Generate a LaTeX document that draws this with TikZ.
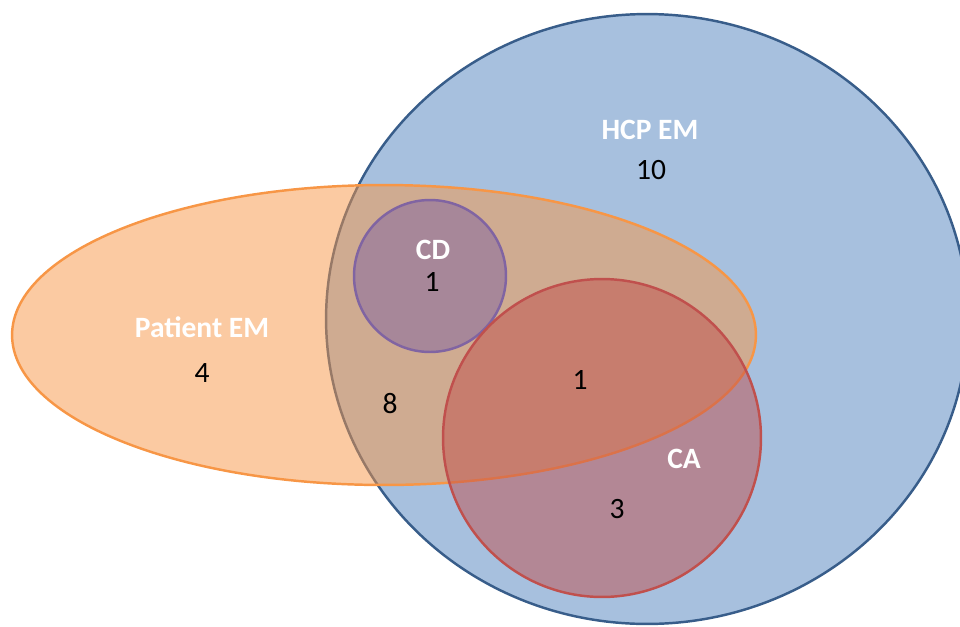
\documentclass[tikz,border=0pt]{standalone}
\usepackage{fontspec}
\setmainfont{Carlito}
\usetikzlibrary{positioning,shapes.geometric}
\definecolor{hcpblue}{HTML}{4F81BD}
\definecolor{hcpline}{HTML}{385D8A}
\definecolor{patorange}{HTML}{F79646}
\definecolor{cdpurple}{HTML}{8064A2}
\definecolor{cared}{HTML}{C0504D}
\tikzset{
	setshape/.style={
		line width=1.4pt,
		fill opacity=0.5,
		draw opacity=1,
		inner sep=0pt
	},
	setname/.style={
		text=white,
		font=\fontsize{16.8}{20}\selectfont\bfseries
	},
	setcount/.style={
		text=black,
		font=\fontsize{16.8}{20}\selectfont
	}
}

\begin{document}
\begin{tikzpicture}[x=0.02cm,y=-0.02cm]
		\useasboundingbox (0,0) rectangle (960,626);
		% the four sets, back to front
		\node[setshape,ellipse,draw=hcpline,fill=hcpblue,minimum width=12.84cm,minimum height=12.2cm] (hcp) at (647,319) {};
		\node[setshape,ellipse,draw=patorange,fill=patorange,minimum width=14.88cm,minimum height=6cm] (patient) at (384,335) {};
		\node[setshape,circle,draw=cdpurple,fill=cdpurple,minimum size=3.04cm] (cd) at (430,276) {};
		\node[setshape,circle,draw=cared,fill=cared,minimum size=6.36cm] (ca) at (602,438) {};

		% names and counts
		\node[setname] (hcpname) at (650,130) {HCP EM};
		\node[setcount] (hcpnum) at (651,170) {10};
		\node[setname] (patname) at (202,327) {Patient EM};
		\node[setcount] (patnum) at (202,373) {4};
		\node[setname] (cdname) at (433,250) {CD};
		\node[setcount] (cdnum) at (432,282) {1};
		\node[setcount] (bothnum) at (390,404) {8};
		\node[setcount] (canum) at (580,380) {1};
		\node[setname] (caname) at (684,459) {CA};
		\node[setcount] (caonly) at (617,509) {3};
	\end{tikzpicture}
\end{document}
